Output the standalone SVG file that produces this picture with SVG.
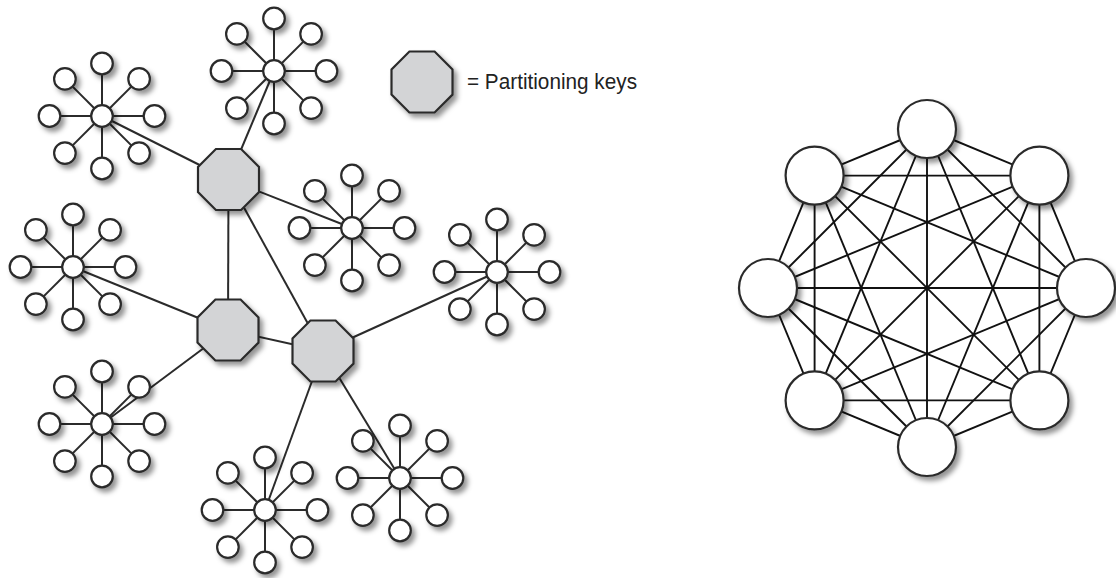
<svg xmlns="http://www.w3.org/2000/svg" xmlns:xlink="http://www.w3.org/1999/xlink" width="1116" height="578" viewBox="0 0 1116 578">
<style>
.ln{stroke:#2b2b2b;stroke-width:2;fill:none}
.big{stroke:#111;stroke-width:1.9}
.nd{fill:#fff;stroke:#2b2b2b;stroke-width:2.2}
.oct{fill:#d3d4d6;stroke:#2b2b2b;stroke-width:2.2}
.lbl{font-family:"Liberation Sans Narrow","Liberation Sans",Arial,sans-serif;font-size:22px;fill:#222}
</style>
<defs>
<filter id="sh" x="-30%" y="-30%" width="170%" height="170%">
<feDropShadow dx="3.5" dy="4" stdDeviation="2.8" flood-color="#000" flood-opacity="0.42"/>
</filter>
<g id="spokes" class="ln">
<line x1="0" y1="0" x2="0" y2="-52.5"/><line x1="0" y1="0" x2="37.1" y2="-37.1"/>
<line x1="0" y1="0" x2="52.5" y2="0"/><line x1="0" y1="0" x2="37.1" y2="37.1"/>
<line x1="0" y1="0" x2="0" y2="52.5"/><line x1="0" y1="0" x2="-37.1" y2="37.1"/>
<line x1="0" y1="0" x2="-52.5" y2="0"/><line x1="0" y1="0" x2="-37.1" y2="-37.1"/>
</g>
<g id="starNodes" filter="url(#sh)">
<circle class="nd" cx="0" cy="0" r="10.8"/>
<circle class="nd" cx="0" cy="-52.5" r="10.8"/><circle class="nd" cx="37.1" cy="-37.1" r="10.8"/>
<circle class="nd" cx="52.5" cy="0" r="10.8"/><circle class="nd" cx="37.1" cy="37.1" r="10.8"/>
<circle class="nd" cx="0" cy="52.5" r="10.8"/><circle class="nd" cx="-37.1" cy="37.1" r="10.8"/>
<circle class="nd" cx="-52.5" cy="0" r="10.8"/><circle class="nd" cx="-37.1" cy="-37.1" r="10.8"/>
</g>
<polygon id="octagon" class="oct" filter="url(#sh)" points="30.5,12.6 12.6,30.5 -12.6,30.5 -30.5,12.6 -30.5,-12.6 -12.6,-30.5 12.6,-30.5 30.5,-12.6"/>
</defs>

<g id="connectors">
<g id="star-spokes">
<use xlink:href="#spokes" href="#spokes" x="102" y="116"/>
<use xlink:href="#spokes" href="#spokes" x="274" y="71"/>
<use xlink:href="#spokes" href="#spokes" x="352" y="228"/>
<use xlink:href="#spokes" href="#spokes" x="497" y="272"/>
<use xlink:href="#spokes" href="#spokes" x="73" y="267"/>
<use xlink:href="#spokes" href="#spokes" x="102" y="424"/>
<use xlink:href="#spokes" href="#spokes" x="265" y="510"/>
<use xlink:href="#spokes" href="#spokes" x="400" y="478"/>
</g>
<g id="key-links" class="ln">
<line x1="102" y1="116" x2="228.5" y2="179.5"/>
<line x1="274" y1="71" x2="228.5" y2="179.5"/>
<line x1="228.5" y1="179.5" x2="352" y2="228"/>
<line x1="228.5" y1="179.5" x2="228" y2="330"/>
<line x1="228.5" y1="179.5" x2="323" y2="351"/>
<line x1="73" y1="267" x2="228" y2="330"/>
<line x1="102" y1="424" x2="228" y2="330"/>
<line x1="228" y1="330" x2="323" y2="351"/>
<line x1="323" y1="351" x2="497" y2="272"/>
<line x1="323" y1="351" x2="265" y2="510"/>
<line x1="323" y1="351" x2="400" y2="478"/>
</g>
<g id="mesh-links" class="ln big">
<line x1="927" y1="129" x2="1039.4" y2="175.6"/>
<line x1="927" y1="129" x2="1086" y2="288"/>
<line x1="927" y1="129" x2="1039.4" y2="400.4"/>
<line x1="927" y1="129" x2="927" y2="447"/>
<line x1="927" y1="129" x2="814.6" y2="400.4"/>
<line x1="927" y1="129" x2="768" y2="288"/>
<line x1="927" y1="129" x2="814.6" y2="175.6"/>
<line x1="1039.4" y1="175.6" x2="1086" y2="288"/>
<line x1="1039.4" y1="175.6" x2="1039.4" y2="400.4"/>
<line x1="1039.4" y1="175.6" x2="927" y2="447"/>
<line x1="1039.4" y1="175.6" x2="814.6" y2="400.4"/>
<line x1="1039.4" y1="175.6" x2="768" y2="288"/>
<line x1="1039.4" y1="175.6" x2="814.6" y2="175.6"/>
<line x1="1086" y1="288" x2="1039.4" y2="400.4"/>
<line x1="1086" y1="288" x2="927" y2="447"/>
<line x1="1086" y1="288" x2="814.6" y2="400.4"/>
<line x1="1086" y1="288" x2="768" y2="288"/>
<line x1="1086" y1="288" x2="814.6" y2="175.6"/>
<line x1="1039.4" y1="400.4" x2="927" y2="447"/>
<line x1="1039.4" y1="400.4" x2="814.6" y2="400.4"/>
<line x1="1039.4" y1="400.4" x2="768" y2="288"/>
<line x1="1039.4" y1="400.4" x2="814.6" y2="175.6"/>
<line x1="927" y1="447" x2="814.6" y2="400.4"/>
<line x1="927" y1="447" x2="768" y2="288"/>
<line x1="927" y1="447" x2="814.6" y2="175.6"/>
<line x1="814.6" y1="400.4" x2="768" y2="288"/>
<line x1="814.6" y1="400.4" x2="814.6" y2="175.6"/>
<line x1="768" y1="288" x2="814.6" y2="175.6"/>
</g>
</g>

<g id="star1"><use xlink:href="#starNodes" href="#starNodes" x="102" y="116"/></g>
<g id="star2"><use xlink:href="#starNodes" href="#starNodes" x="274" y="71"/></g>
<g id="star3"><use xlink:href="#starNodes" href="#starNodes" x="352" y="228"/></g>
<g id="star4"><use xlink:href="#starNodes" href="#starNodes" x="497" y="272"/></g>
<g id="star5"><use xlink:href="#starNodes" href="#starNodes" x="73" y="267"/></g>
<g id="star6"><use xlink:href="#starNodes" href="#starNodes" x="102" y="424"/></g>
<g id="star7"><use xlink:href="#starNodes" href="#starNodes" x="265" y="510"/></g>
<g id="star8"><use xlink:href="#starNodes" href="#starNodes" x="400" y="478"/></g>

<g id="key1"><use xlink:href="#octagon" href="#octagon" x="228.5" y="179.5"/></g>
<g id="key2"><use xlink:href="#octagon" href="#octagon" x="228" y="330"/></g>
<g id="key3"><use xlink:href="#octagon" href="#octagon" x="323" y="351"/></g>

<g id="legend">
<use xlink:href="#octagon" href="#octagon" x="422" y="82"/>
<text class="lbl" x="467" y="89" textLength="170" lengthAdjust="spacingAndGlyphs">= Partitioning keys</text>
</g>

<g id="mesh-nodes" filter="url(#sh)">
<circle id="m0" class="nd" cx="927" cy="129" r="29"/>
<circle id="m1" class="nd" cx="1039.4" cy="175.6" r="29"/>
<circle id="m2" class="nd" cx="1086" cy="288" r="29"/>
<circle id="m3" class="nd" cx="1039.4" cy="400.4" r="29"/>
<circle id="m4" class="nd" cx="927" cy="447" r="29"/>
<circle id="m5" class="nd" cx="814.6" cy="400.4" r="29"/>
<circle id="m6" class="nd" cx="768" cy="288" r="29"/>
<circle id="m7" class="nd" cx="814.6" cy="175.6" r="29"/>
</g>
</svg>
